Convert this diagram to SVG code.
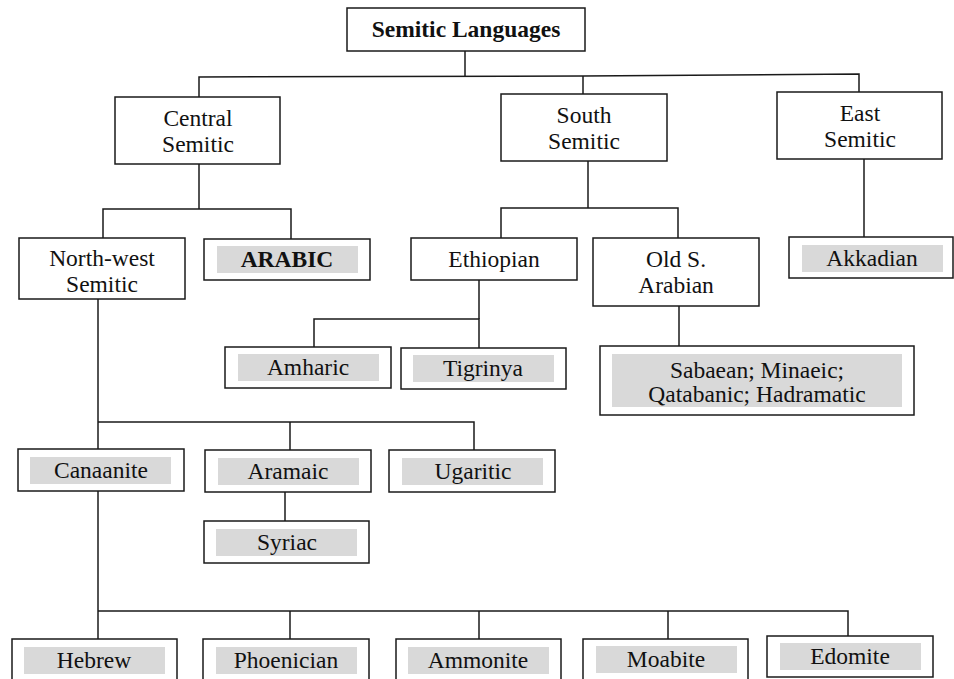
<svg xmlns="http://www.w3.org/2000/svg" width="954" height="679" viewBox="0 0 954 679">
  <style>
    .box { fill: #ffffff; stroke: #1a1a1a; stroke-width: 1.5; }
    .hl { fill: #d9d9d9; stroke: none; }
    .t { font-family: "Liberation Serif", "Times New Roman", serif; font-size: 23.5px; fill: #111111; text-anchor: middle; }
    .b { font-weight: bold; }
    .conn { fill: none; stroke: #1a1a1a; stroke-width: 1.5; }
  </style>
  <rect width="954" height="679" fill="#ffffff"/>

  <!-- connectors -->
  <g id="connectors" class="conn">
    <path d="M465,51 V77"/>
    <path d="M199,97 V77 L583,76 L859,74 V92"/>
    <path d="M583,76 V94"/>
    <path d="M199,164 V209"/>
    <path d="M103,238 V209 H291 V239"/>
    <path d="M588,161 V208"/>
    <path d="M501,238 V208 H678 V238"/>
    <path d="M864,159 V237"/>
    <path d="M479,280 V319"/>
    <path d="M314,347 V319 H479 V348"/>
    <path d="M679,306 V346"/>
    <path d="M98,299 V449"/>
    <path d="M98,422 H474 V450"/>
    <path d="M290,422 V450"/>
    <path d="M285,492 V521"/>
    <path d="M98,491 V639"/>
    <path d="M98,611 H848 V637"/>
    <path d="M290,611 V639"/>
    <path d="M479,611 V639"/>
    <path d="M668,611 V639"/>
  </g>

  <g id="semitic-languages">
    <rect class="box" x="347" y="8" width="238" height="43"/>
    <text class="t b" x="466" y="37">Semitic Languages</text>
  </g>

  <g id="central-semitic">
    <rect class="box" x="115" y="97" width="165" height="67"/>
    <text class="t" x="198" y="126">Central</text>
    <text class="t" x="198" y="152">Semitic</text>
  </g>

  <g id="south-semitic">
    <rect class="box" x="501" y="94" width="166" height="67"/>
    <text class="t" x="584" y="123">South</text>
    <text class="t" x="584" y="149">Semitic</text>
  </g>

  <g id="east-semitic">
    <rect class="box" x="777" y="92" width="165" height="67"/>
    <text class="t" x="860" y="121">East</text>
    <text class="t" x="860" y="147">Semitic</text>
  </g>

  <g id="north-west-semitic">
    <rect class="box" x="19" y="238" width="166" height="61"/>
    <text class="t" x="102" y="266">North-west</text>
    <text class="t" x="102" y="292">Semitic</text>
  </g>

  <g id="arabic">
    <rect class="box" x="204" y="239" width="166" height="41"/>
    <rect class="hl" x="217" y="246" width="141" height="27"/>
    <text class="t b" x="287" y="267">ARABIC</text>
  </g>

  <g id="ethiopian">
    <rect class="box" x="411" y="238" width="166" height="42"/>
    <text class="t" x="494" y="267">Ethiopian</text>
  </g>

  <g id="old-s-arabian">
    <rect class="box" x="593" y="238" width="166" height="68"/>
    <text class="t" x="676" y="267">Old S.</text>
    <text class="t" x="676" y="293">Arabian</text>
  </g>

  <g id="akkadian">
    <rect class="box" x="789" y="237" width="164" height="41"/>
    <rect class="hl" x="802" y="245" width="141" height="27"/>
    <text class="t" x="872" y="266">Akkadian</text>
  </g>

  <g id="amharic">
    <rect class="box" x="225" y="347" width="166" height="41"/>
    <rect class="hl" x="238" y="354" width="141" height="27"/>
    <text class="t" x="308" y="375">Amharic</text>
  </g>

  <g id="tigrinya">
    <rect class="box" x="401" y="348" width="165" height="41"/>
    <rect class="hl" x="413" y="355" width="141" height="27"/>
    <text class="t" x="483" y="376">Tigrinya</text>
  </g>

  <g id="sabaean-group">
    <rect class="box" x="600" y="346" width="314" height="69"/>
    <rect class="hl" x="612" y="354" width="290" height="53"/>
    <text class="t" x="757" y="378">Sabaean; Minaeic;</text>
    <text class="t" x="757" y="402">Qatabanic; Hadramatic</text>
  </g>

  <g id="canaanite">
    <rect class="box" x="18" y="449" width="166" height="42"/>
    <rect class="hl" x="30" y="457" width="141" height="27"/>
    <text class="t" x="101" y="478">Canaanite</text>
  </g>

  <g id="aramaic">
    <rect class="box" x="205" y="450" width="166" height="42"/>
    <rect class="hl" x="218" y="458" width="141" height="27"/>
    <text class="t" x="288" y="479">Aramaic</text>
  </g>

  <g id="ugaritic">
    <rect class="box" x="389" y="450" width="166" height="42"/>
    <rect class="hl" x="402" y="458" width="141" height="27"/>
    <text class="t" x="473" y="479">Ugaritic</text>
  </g>

  <g id="syriac">
    <rect class="box" x="204" y="521" width="165" height="42"/>
    <rect class="hl" x="216" y="529" width="141" height="27"/>
    <text class="t" x="287" y="550">Syriac</text>
  </g>

  <g id="hebrew">
    <rect class="box" x="12" y="639" width="165" height="44"/>
    <rect class="hl" x="24" y="647" width="141" height="27"/>
    <text class="t" x="94" y="668">Hebrew</text>
  </g>

  <g id="phoenician">
    <rect class="box" x="203" y="639" width="166" height="44"/>
    <rect class="hl" x="216" y="647" width="141" height="27"/>
    <text class="t" x="286" y="668">Phoenician</text>
  </g>

  <g id="ammonite">
    <rect class="box" x="396" y="639" width="165" height="44"/>
    <rect class="hl" x="408" y="647" width="141" height="27"/>
    <text class="t" x="478" y="668">Ammonite</text>
  </g>

  <g id="moabite">
    <rect class="box" x="583" y="639" width="165" height="44"/>
    <rect class="hl" x="596" y="646" width="141" height="27"/>
    <text class="t" x="666" y="667">Moabite</text>
  </g>

  <g id="edomite">
    <rect class="box" x="767" y="636" width="166" height="41"/>
    <rect class="hl" x="780" y="643" width="141" height="27"/>
    <text class="t" x="850" y="664">Edomite</text>
  </g>
</svg>
